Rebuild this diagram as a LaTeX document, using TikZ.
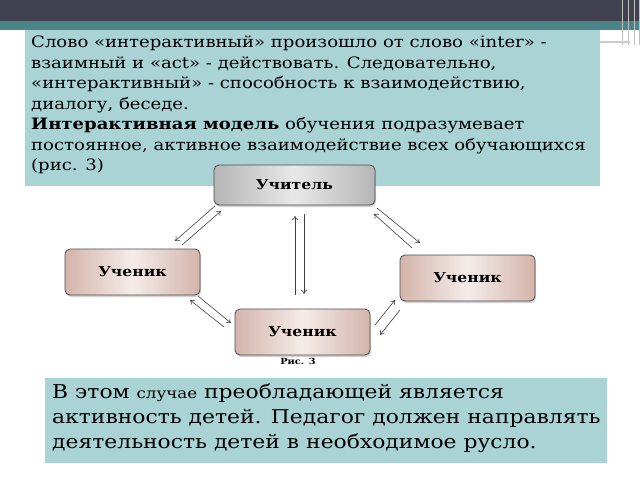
\documentclass[tikz,border=0pt]{standalone}
\usepackage{fontspec}
\setmainfont[FakeStretch=1.15]{DejaVu Serif}
\usetikzlibrary{shadows,arrows.meta}
\definecolor{boxbg}{HTML}{AAD3D5}
\definecolor{darkbar}{HTML}{41414F}
\definecolor{tealbar}{HTML}{4A8588}
\definecolor{pink}{HTML}{D4B4AA}
\definecolor{grayn}{HTML}{B5B5B5}
\tikzset{
  x=1pt,y=-1pt,
  nodebox/.style={rounded corners=5pt,draw=black!70,line width=0.8pt,drop shadow={opacity=0.35,shadow xshift=1pt,shadow yshift=-2pt},
    font=\bfseries\fontsize{13.6}{15}\selectfont,inner sep=0pt},
  pinkbox/.style={nodebox,left color=pink,right color=pink,middle color=pink!25},
  graybox/.style={nodebox,left color=grayn,right color=grayn,middle color=grayn!30},
  arr/.style={-{To[length=4pt,width=6pt]},line width=0.6pt,black!75},
}
\begin{document}
\begin{tikzpicture}
\useasboundingbox (0,0) rectangle (640,480);
\fill[white] (0,0) rectangle (640,480);
\fill[darkbar] (0,0) rectangle (640,21);
\fill[tealbar] (0,21) rectangle (640,30);
\foreach \xx in {622,628,634,639} \draw[black!25,line width=1pt] (\xx,0) -- (\xx,45);
\draw[black!20,line width=1.5pt] (600,42) -- (630,42);
\node[fill=boxbg,minimum width=575pt,minimum height=156pt,inner sep=0pt] (top) at (312.5,108) {};
\node[anchor=north west,align=left,inner sep=0pt,font=\fontsize{15.7}{20.5}\selectfont] (toptxt) at (31,36)
{Слово «интерактивный» произошло от слово «inter» -\\
взаимный и «act» - действовать. Следовательно,\\
«интерактивный» - способность к взаимодействию,\\
диалогу, беседе.\\
\textbf{Интерактивная модель} обучения подразумевает\\
постоянное, активное взаимодействие всех обучающихся\\
(рис. 3)};
\node[graybox,minimum width=161pt,minimum height=40pt] (t) at (294.5,185) {Учитель};
\node[pinkbox,minimum width=135pt,minimum height=46pt] (l) at (132.5,272) {Ученик};
\node[pinkbox,minimum width=135pt,minimum height=46pt] (r) at (467.5,278) {Ученик};
\node[pinkbox,minimum width=135pt,minimum height=46pt] (b) at (302.5,332) {Ученик};
\node[font=\bfseries\fontsize{8.5}{9}\selectfont] (cap) at (298,361) {Рис. 3};
\coordinate (a1) at (215,206); \coordinate (a2) at (175,241);
\coordinate (a3) at (182,245); \coordinate (a4) at (221,211);
\draw[arr] (a1) -- (a2); \draw[arr] (a3) -- (a4);
\coordinate (v1) at (295,295); \coordinate (v2) at (295,216);
\coordinate (v3) at (304,214); \coordinate (v4) at (304,294);
\draw[arr] (v1) -- (v2); \draw[arr] (v3) -- (v4);
\coordinate (c1) at (377,208); \coordinate (c2) at (420,243);
\coordinate (c3) at (412,248); \coordinate (c4) at (374,214);
\draw[arr] (c1) -- (c2); \draw[arr] (c3) -- (c4);
\coordinate (d1) at (224,327); \coordinate (d2) at (190,300);
\coordinate (d3) at (198,296); \coordinate (d4) at (231,323);
\draw[arr] (d1) -- (d2); \draw[arr] (d3) -- (d4);
\coordinate (e1) at (375,325); \coordinate (e2) at (395,300);
\coordinate (e3) at (400,310); \coordinate (e4) at (380,335);
\draw[arr] (e1) -- (e2); \draw[arr] (e3) -- (e4);
\node[fill=boxbg,minimum width=562pt,minimum height=85pt,inner sep=0pt] (bot) at (326,420.5) {};
\node[anchor=north west,align=left,inner sep=0pt,font=\fontsize{19}{25}\selectfont] (bottxt) at (52,384)
{В этом {\fontsize{14.5}{25}\selectfont случае} преобладающей является\\
активность детей. Педагог должен направлять\\
деятельность детей в необходимое русло.};
\end{tikzpicture}
\end{document}
